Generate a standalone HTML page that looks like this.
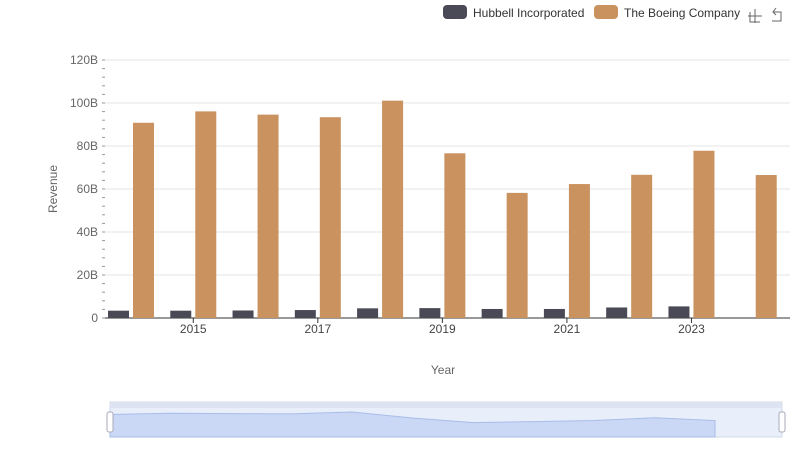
<!DOCTYPE html>
<html><head><meta charset="utf-8"><style>
body{margin:0;background:#fff;font-family:"Liberation Sans",sans-serif}
svg text{font-family:"Liberation Sans",sans-serif}
</style></head><body>
<svg id="c" width="800" height="461"></svg>
<script>
const years=["2014","2015","2016","2017","2018","2019","2020","2021","2022","2023","2024"];
const hubbell=[3.4,3.4,3.5,3.7,4.5,4.6,4.2,4.2,4.9,5.4,null];
const boeing=[90.8,96.1,94.6,93.4,101.1,76.6,58.2,62.3,66.6,77.8,66.5];
const yTicks=[0,20,40,60,80,100,120];
const yTickLabels=["0","20B","40B","60B","80B","100B","120B"];
const xLabelYears=["2015","2017","2019","2021","2023"];
const NS="http://www.w3.org/2000/svg";
const svg=document.getElementById('c');
function mk(t,a,txt){const e=document.createElementNS(NS,t);for(const k in a)e.setAttribute(k,a[k]);if(txt!=null)e.textContent=txt;svg.appendChild(e);return e;}
const x0=105,x1=790,yTop=60,yBot=318,gw=(x1-x0)/years.length;
const y=v=>yBot-(v/120)*(yBot-yTop);
const gx=i=>x0+i*gw;
yTicks.forEach((t,i)=>{
 if(t>0){const l=mk('line',{x1:x0,x2:x1,y1:y(t),y2:y(t),stroke:'#e4e4e4'});}
 const tx=mk('text',{x:98,y:y(t)+4,'text-anchor':'end','font-size':12,fill:'#666'},yTickLabels[i]);
 
});
for(let v=0;v<=120;v+=4){mk('line',{x1:102,x2:105,y1:y(v),y2:y(v),stroke:'#999'});}
const ax=mk('line',{x1:x0,x2:x1,y1:yBot,y2:yBot,stroke:'#333'});
years.forEach((yr,i)=>{
 if(hubbell[i]!=null){const r=mk('rect',{x:gx(i)+3,y:y(hubbell[i]),width:21,height:yBot-y(hubbell[i]),fill:'#4a4a56'});}
 const b=mk('rect',{x:gx(i)+28,y:y(boeing[i]),width:21,height:yBot-y(boeing[i]),fill:'#c9925e'});
 if(xLabelYears.includes(yr)){mk('line',{x1:gx(i)+26,x2:gx(i)+26,y1:yBot,y2:yBot+5,stroke:'#333'});
  const t=mk('text',{x:gx(i)+26,y:333,'text-anchor':'middle','font-size':12,fill:'#444'},yr);}
});
let t=mk('text',{x:443,y:374,'text-anchor':'middle','font-size':12,fill:'#666'},'Year');
t=mk('text',{x:57,y:189,'text-anchor':'middle','font-size':12,fill:'#666',transform:'rotate(-90 57 189)'},'Revenue');
// legend
let r=mk('rect',{x:443,y:5,width:24,height:14,rx:4,fill:'#4a4a56'});
t=mk('text',{x:473,y:17,'font-size':12,fill:'#333'},'Hubbell Incorporated');
r=mk('rect',{x:594,y:5,width:24,height:14,rx:4,fill:'#c9925e'});
t=mk('text',{x:624,y:17,'font-size':12,fill:'#333'},'The Boeing Company');
r=mk('path',{d:'M748 16h14M755 9v14M750 12v10h10',stroke:'#666',fill:'none'});
r=mk('path',{d:'M776 8l-3 4 3 3M773 12h8v9h-9',stroke:'#666',fill:'none'});
// slider
r=mk('rect',{x:110,y:402,width:672,height:35,fill:'#e8eefa',stroke:'#d0d8ea'});
r=mk('rect',{x:110,y:402,width:672,height:6,fill:'#dde3f0'});
let pts=boeing.map((v,i)=>[110+i*(605/10),437-(v/101.1)*25]);
r=mk('path',{d:'M110 437 '+pts.map(p=>'L'+p[0]+' '+p[1]).join(' ')+' L715 437Z',fill:'#cbd8f5',stroke:'#a8bde8'});
r=mk('rect',{x:107,y:412,width:6,height:20,rx:2,fill:'#fff',stroke:'#aab'});
r=mk('rect',{x:779,y:412,width:6,height:20,rx:2,fill:'#fff',stroke:'#aab'});
</script></body></html>
